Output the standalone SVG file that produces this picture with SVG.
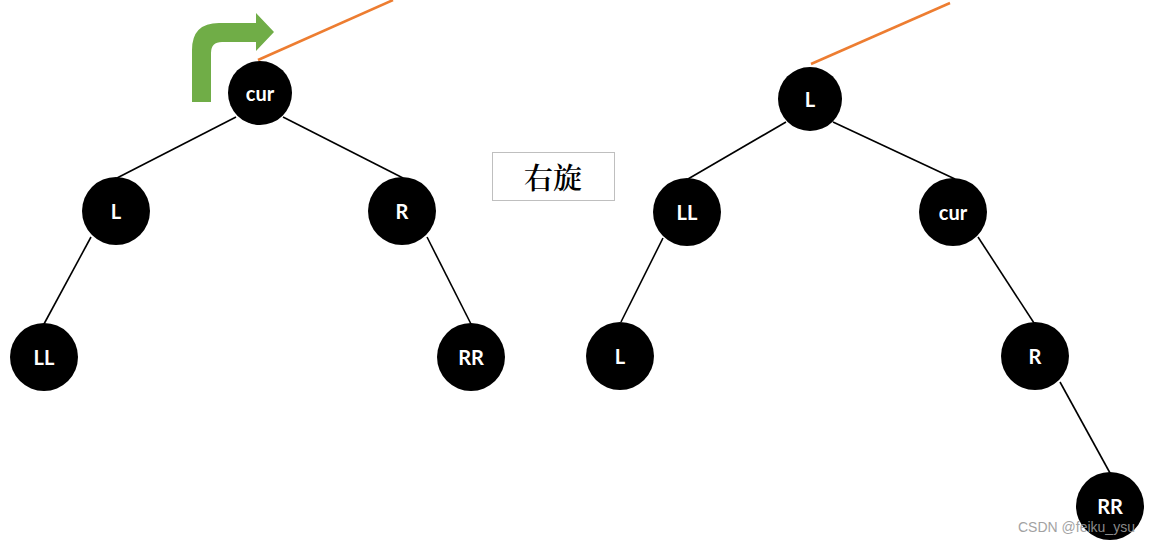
<svg xmlns="http://www.w3.org/2000/svg" width="1151" height="545" viewBox="0 0 1151 545">
<style>
.e{stroke:#000;stroke-width:1.6;fill:none}
.o{stroke:#ED7D31;stroke-width:2.5;fill:none}
.n{fill:#000}
.t{fill:#fff;font-family:Lato,"Open Sans","Liberation Sans",sans-serif;font-weight:bold;font-size:20px;text-anchor:middle;dominant-baseline:central}
</style>
<rect width="1151" height="545" fill="#fff"/>
<g id="connectors">
<line class="o" x1="258" y1="60" x2="393" y2="0"/>
<line class="o" x1="811" y1="64" x2="950" y2="3"/>
<line class="e" x1="236" y1="117" x2="117" y2="178"/>
<line class="e" x1="283" y1="117" x2="403" y2="178"/>
<line class="e" x1="91" y1="237" x2="44" y2="324"/>
<line class="e" x1="427" y1="237" x2="471" y2="324"/>
<line class="e" x1="786" y1="122" x2="688" y2="179"/>
<line class="e" x1="833" y1="122" x2="955" y2="179"/>
<line class="e" x1="663" y1="238" x2="621" y2="322"/>
<line class="e" x1="978" y1="237" x2="1034" y2="323"/>
<line class="e" x1="1060" y1="382" x2="1110" y2="473"/>
</g>
<g id="rotate-arrow">
<path d="M192,102 V50 Q192,23 219,23 H256 V13 L274,32 L256,51 V42 H222 Q211,42 211,53 V102 Z" fill="#70AD47"/>
</g>
<g id="label-box">
<rect x="492.5" y="152.5" width="122" height="48" fill="#fff" stroke="#BFBFBF" stroke-width="1"/>
<text x="553" y="176" font-family="'Noto Serif CJK SC','Noto Sans CJK SC',serif" font-size="29" font-weight="600" text-anchor="middle" dominant-baseline="central" fill="#000">右旋</text>
</g>
<g id="n-cur"><circle class="n" cx="260" cy="93" r="32"/><text class="t" x="260" y="93">cur</text></g>
<g id="n-L"><circle class="n" cx="116" cy="211" r="34"/><text class="t" x="116" y="211">L</text></g>
<g id="n-R"><circle class="n" cx="402" cy="211" r="34"/><text class="t" x="402" y="211">R</text></g>
<g id="n-LL"><circle class="n" cx="44" cy="357" r="34"/><text class="t" x="44" y="357">LL</text></g>
<g id="n-RR"><circle class="n" cx="471" cy="357" r="34"/><text class="t" x="471" y="357">RR</text></g>
<g id="n2-L"><circle class="n" cx="810" cy="99" r="32"/><text class="t" x="810" y="99">L</text></g>
<g id="n2-LL"><circle class="n" cx="687" cy="212" r="34"/><text class="t" x="687" y="212">LL</text></g>
<g id="n2-cur"><circle class="n" cx="953" cy="212" r="34"/><text class="t" x="953" y="212">cur</text></g>
<g id="n2-Lleaf"><circle class="n" cx="620" cy="356" r="34"/><text class="t" x="620" y="356">L</text></g>
<g id="n2-R"><circle class="n" cx="1035" cy="356" r="34"/><text class="t" x="1035" y="356">R</text></g>
<g id="n2-RR"><circle class="n" cx="1110" cy="506" r="34"/><text class="t" x="1110" y="506">RR</text></g>
<text x="1018" y="532" font-family="'Liberation Sans',Arial,sans-serif" font-size="14" fill="#999" opacity="0.9">CSDN @feiku_ysu</text>
</svg>
